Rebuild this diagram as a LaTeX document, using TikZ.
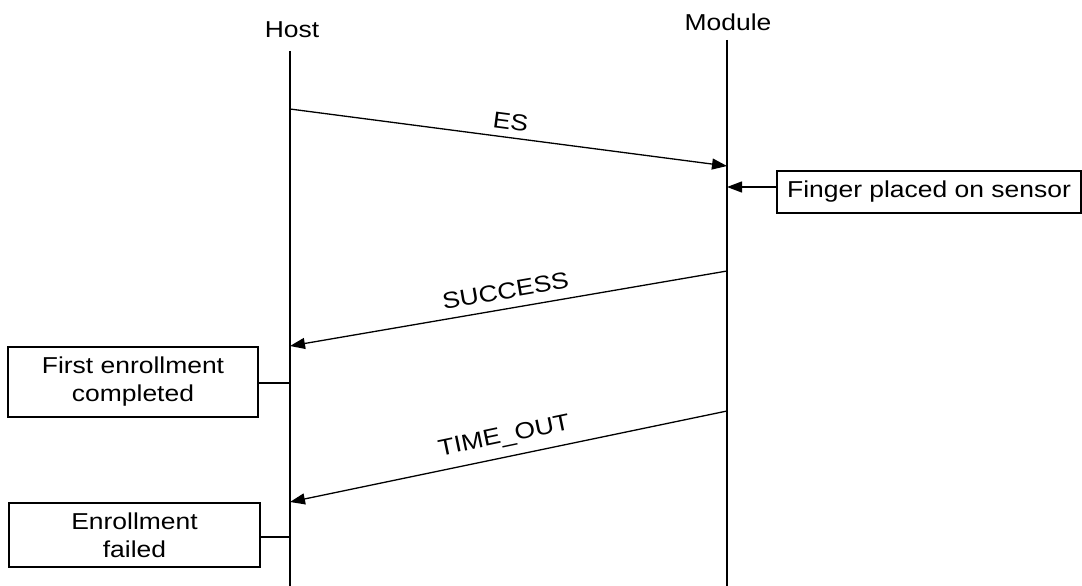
\documentclass[tikz,border=0pt]{standalone}
\usepackage{fontspec}
\setmainfont{Liberation Sans}[FakeStretch=1.15]
\usetikzlibrary{arrows.meta}
\begin{document}
\begin{tikzpicture}[x=1pt,y=-1pt,
  every node/.style={font=\fontsize{23}{28}\selectfont, inner sep=0pt},
  msg/.style={line width=1.3pt, -{Triangle[length=15pt,width=11pt]}},
  life/.style={line width=1.3pt},
  box/.style={draw, line width=1.3pt, align=center}]
\useasboundingbox (0,0) rectangle (1082,586);
% lifeline heads
\node (host) at (292,30) {Host};
\node (module) at (728,22) {Module};
\coordinate (htop) at (290,51);
\coordinate (hbot) at (290,586);
\coordinate (mtop) at (727,40);
\coordinate (mbot) at (727,586);
\draw[life] (htop) -- (hbot);
\draw[life] (mtop) -- (mbot);
% message points
\coordinate (h1) at (290,109);
\coordinate (m1) at (727,166);
\coordinate (m2) at (727,271);
\coordinate (h2) at (290,346);
\coordinate (m3) at (727,411);
\coordinate (h3) at (290,502);
\coordinate (m4) at (727,187);
\coordinate (h4) at (290,383);
\coordinate (h5) at (290,537);
% boxes
\node[box, minimum width=304pt, minimum height=42pt] (finger) at (929,192) {Finger placed on sensor};
\node[box, minimum width=250pt, minimum height=70pt] (first) at (133,382) {First enrollment\\completed};
\node[box, minimum width=251pt, minimum height=64pt] (failed) at (134.5,535) {Enrollment\\failed};
% messages
\draw[msg] (h1) -- (m1) node[midway, sloped, above=7pt] {ES};
\draw[msg] (finger.west |- m4) -- (m4);
\draw[msg] (m2) -- (h2) node[midway, sloped, above=9pt] {SUCCESS};
\draw[msg] (m3) -- (h3) node[midway, sloped, above=9pt] {TIME\_OUT};
\draw[life] (first.east |- h4) -- (h4);
\draw[life] (failed.east |- h5) -- (h5);
\end{tikzpicture}
\end{document}
